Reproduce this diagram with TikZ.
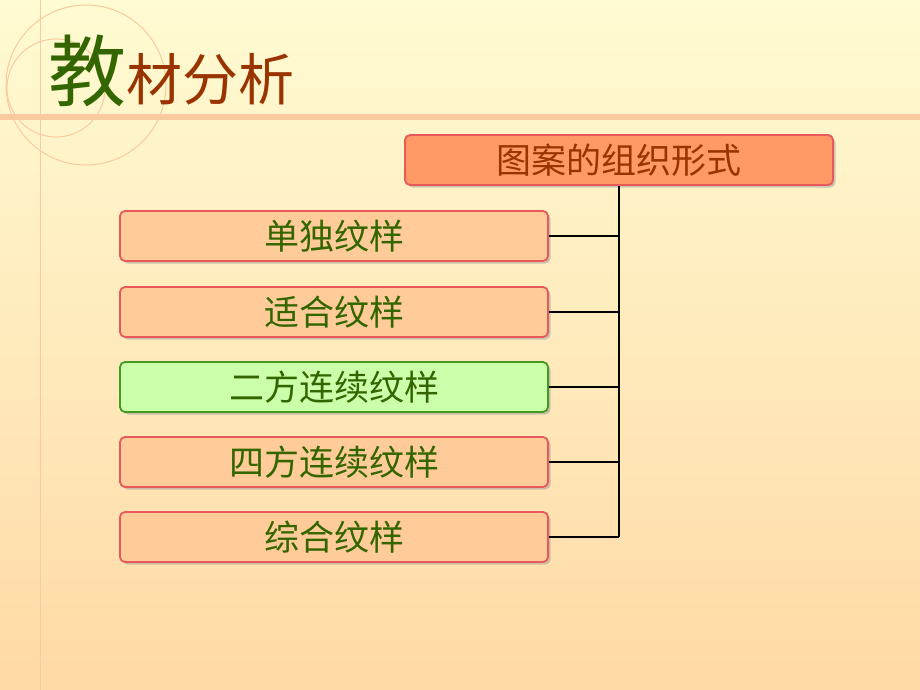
\documentclass[tikz,border=0pt]{standalone}
\usepackage{fontspec}
\setmainfont{Noto Sans CJK SC}
\usetikzlibrary{positioning,calc,shadows}
\definecolor{bgtop}{HTML}{FFFBD2}
\definecolor{bgbot}{HTML}{FFD9A6}
\definecolor{peach}{HTML}{FFCC99}
\definecolor{deco}{HTML}{F9C9A0}
\definecolor{headfill}{HTML}{FF9966}
\definecolor{boxline}{HTML}{E85A5A}
\definecolor{leafgreen}{HTML}{336600}
\definecolor{brick}{HTML}{993300}
\definecolor{lightgreen}{HTML}{CCFFAA}
\definecolor{darkgreen}{HTML}{449922}

\begin{document}
\begin{tikzpicture}[x=1pt,y=-1pt,
            headbox/.style={draw=boxline, line width=1.8pt, rounded corners=5pt, fill=headfill, minimum width=428pt, minimum height=50pt, inner sep=0pt, font=\fontsize{35}{35}\selectfont, text=brick, drop shadow={shadow xshift=2.5pt, shadow yshift=-2.5pt, fill=gray!80}},
            leafbox/.style={draw=boxline, line width=1.8pt, rounded corners=5pt, fill=peach, minimum width=428pt, minimum height=50pt, inner sep=0pt, font=\fontsize{35}{35}\selectfont, text=leafgreen, drop shadow={shadow xshift=2.5pt, shadow yshift=-2.5pt, fill=gray!80}},
            greenbox/.style={leafbox, draw=darkgreen, fill=lightgreen},
            link/.style={line width=2.5pt, black}
        ]
        
        % background
        \shade[top color=bgtop, bottom color=bgbot] (0,0) rectangle (920,690);
        \useasboundingbox (0,0) rectangle (920,690);
        
        % decoration
        \draw[deco, line width=0.8pt] (40,0) -- (40,690);
        \draw[deco, line width=1pt] (86,85) circle (80);
        \draw[deco, line width=1pt] (56,88) circle (49);
        \draw[deco, line width=6pt] (0,117) -- (920,117);
        
        % title
        \node[anchor=base west, inner sep=0pt, font=\fontsize{78}{78}\selectfont, text=leafgreen] (jiao) at (48,101) {教};
        \node[anchor=base west, inner sep=0pt, font=\fontsize{56}{56}\selectfont, text=brick] (title) at (jiao.base east) {材分析};
        
        % root
        \node[headbox] (form) at (619,160) {图案的组织形式};
        
        % leaves
        \node[leafbox] (single) at (334,236) {单独纹样};
        \node[leafbox] (fit) at (334,312) {适合纹样};
        \node[greenbox] (twoway) at (334,387) {二方连续纹样};
        \node[leafbox] (fourway) at (334,462) {四方连续纹样};
        \node[leafbox] (mixed) at (334,537) {综合纹样};
        
        % connectors
        \coordinate (trunk) at (619,537);
        \draw[link] (form.south) -- (trunk);
        \foreach \leaf in {single,fit,twoway,fourway,mixed}
            \draw[link] (\leaf.east) -- (\leaf.east -| trunk);
        
        \end{tikzpicture}
\end{document}
